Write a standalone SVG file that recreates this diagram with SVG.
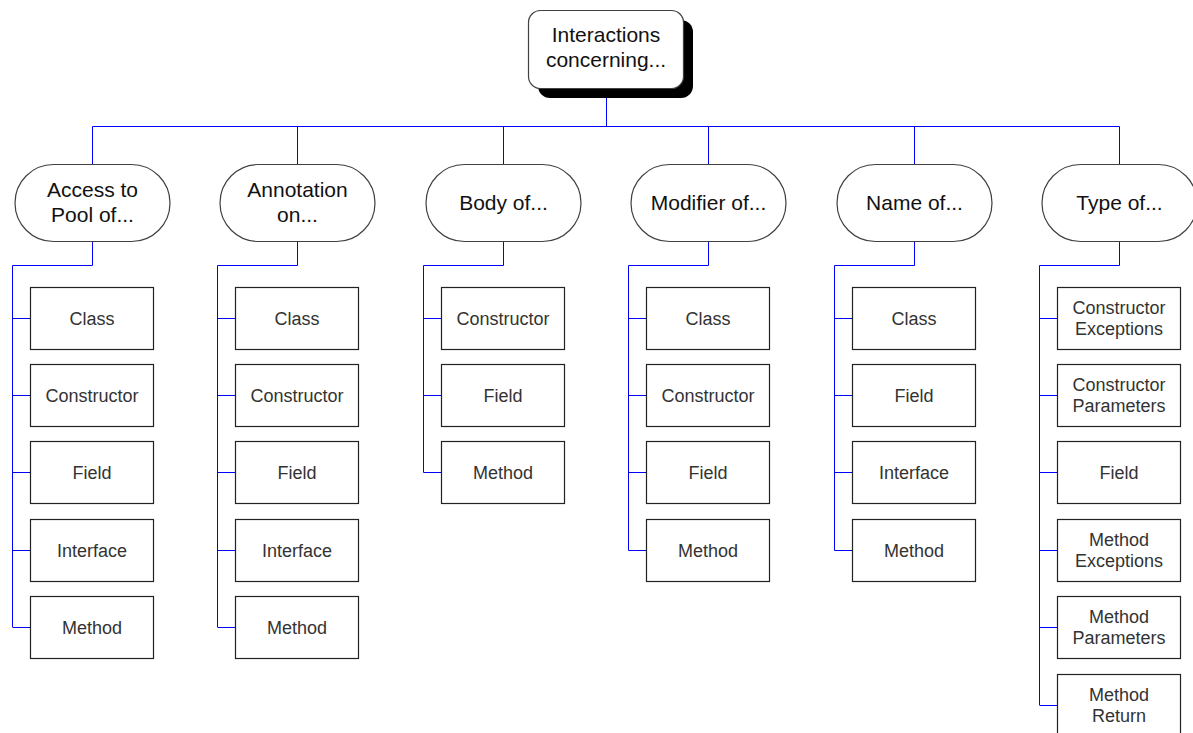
<svg xmlns="http://www.w3.org/2000/svg" width="1193" height="733" viewBox="0 0 1193 733">
<style>
.bg{fill:#fff}
.conn{fill:none;stroke:#0000ff;stroke-width:1}
.cat rect{fill:#fff;stroke:#404040;stroke-width:1.2}
.leaf rect{fill:#fff;stroke:#222;stroke-width:1.2}
.cat text{font-family:"Liberation Sans",Arial,sans-serif;font-size:21px;fill:#111;text-anchor:middle}
.leaf text{font-family:"Liberation Sans",Arial,sans-serif;font-size:18px;fill:#333;text-anchor:middle}
.root text{font-family:"Liberation Sans",Arial,sans-serif;font-size:21px;fill:#111;text-anchor:middle}
</style>
<rect class="bg" x="0" y="0" width="1193" height="733"/>
<g id="connectors" class="conn">
<path d="M606.5 88V126.5M92.5 126.5H1119.5M92.5 126.5V164M297.5 126.5V164M503.5 126.5V164M708.5 126.5V164M914.5 126.5V164M1119.5 126.5V164"/>
<path d="M92.5 242V265.5H12.5V627M12.5 318.5H30M12.5 395.5H30M12.5 472.5H30M12.5 550.5H30M12.5 627.5H30"/>
<path d="M297.5 242V265.5H217.5V627M217.5 318.5H235M217.5 395.5H235M217.5 472.5H235M217.5 550.5H235M217.5 627.5H235"/>
<path d="M503.5 242V265.5H423.5V472.5M423.5 318.5H441M423.5 395.5H441M423.5 472.5H441"/>
<path d="M708.5 242V265.5H628.5V550.5M628.5 318.5H646M628.5 395.5H646M628.5 472.5H646M628.5 550.5H646"/>
<path d="M914.5 242V265.5H834.5V550.5M834.5 318.5H852M834.5 395.5H852M834.5 472.5H852M834.5 550.5H852"/>
<path d="M1119.5 242V265.5H1039.5V705M1039.5 318.5H1057M1039.5 395.5H1057M1039.5 472.5H1057M1039.5 550.5H1057M1039.5 627.5H1057M1039.5 705.5H1057"/>
</g>
<g id="root" class="root">
<rect x="538" y="20" width="155" height="78" rx="12" fill="#000"/>
<rect x="528.5" y="10.5" width="155" height="78" rx="12" fill="#fff" stroke="#404040" stroke-width="1.2"/>
<text x="606" y="42">Interactions</text>
<text x="606" y="67">concerning...</text>
</g>
<g id="cat-access" class="cat"><rect x="15" y="164.5" width="155" height="77" rx="38.5"/><text x="92.5" y="197">Access to</text><text x="92.5" y="222">Pool of...</text></g>
<g id="cat-annotation" class="cat"><rect x="220" y="164.5" width="155" height="77" rx="38.5"/><text x="297.5" y="197">Annotation</text><text x="297.5" y="222">on...</text></g>
<g id="cat-body" class="cat"><rect x="426" y="164.5" width="155" height="77" rx="38.5"/><text x="503.5" y="210">Body of...</text></g>
<g id="cat-modifier" class="cat"><rect x="631" y="164.5" width="155" height="77" rx="38.5"/><text x="708.5" y="210">Modifier of...</text></g>
<g id="cat-name" class="cat"><rect x="837" y="164.5" width="155" height="77" rx="38.5"/><text x="914.5" y="210">Name of...</text></g>
<g id="cat-type" class="cat"><rect x="1042" y="164.5" width="155" height="77" rx="38.5"/><text x="1119.5" y="210">Type of...</text></g>

<g id="access-class" class="leaf"><rect x="30.5" y="287.5" width="123" height="62"/><text x="92" y="325">Class</text></g>
<g id="access-constructor" class="leaf"><rect x="30.5" y="364.5" width="123" height="62"/><text x="92" y="402">Constructor</text></g>
<g id="access-field" class="leaf"><rect x="30.5" y="441.5" width="123" height="62"/><text x="92" y="479">Field</text></g>
<g id="access-interface" class="leaf"><rect x="30.5" y="519.5" width="123" height="62"/><text x="92" y="557">Interface</text></g>
<g id="access-method" class="leaf"><rect x="30.5" y="596.5" width="123" height="62"/><text x="92" y="634">Method</text></g>

<g id="annot-class" class="leaf"><rect x="235.5" y="287.5" width="123" height="62"/><text x="297" y="325">Class</text></g>
<g id="annot-constructor" class="leaf"><rect x="235.5" y="364.5" width="123" height="62"/><text x="297" y="402">Constructor</text></g>
<g id="annot-field" class="leaf"><rect x="235.5" y="441.5" width="123" height="62"/><text x="297" y="479">Field</text></g>
<g id="annot-interface" class="leaf"><rect x="235.5" y="519.5" width="123" height="62"/><text x="297" y="557">Interface</text></g>
<g id="annot-method" class="leaf"><rect x="235.5" y="596.5" width="123" height="62"/><text x="297" y="634">Method</text></g>

<g id="body-constructor" class="leaf"><rect x="441.5" y="287.5" width="123" height="62"/><text x="503" y="325">Constructor</text></g>
<g id="body-field" class="leaf"><rect x="441.5" y="364.5" width="123" height="62"/><text x="503" y="402">Field</text></g>
<g id="body-method" class="leaf"><rect x="441.5" y="441.5" width="123" height="62"/><text x="503" y="479">Method</text></g>

<g id="mod-class" class="leaf"><rect x="646.5" y="287.5" width="123" height="62"/><text x="708" y="325">Class</text></g>
<g id="mod-constructor" class="leaf"><rect x="646.5" y="364.5" width="123" height="62"/><text x="708" y="402">Constructor</text></g>
<g id="mod-field" class="leaf"><rect x="646.5" y="441.5" width="123" height="62"/><text x="708" y="479">Field</text></g>
<g id="mod-method" class="leaf"><rect x="646.5" y="519.5" width="123" height="62"/><text x="708" y="557">Method</text></g>

<g id="name-class" class="leaf"><rect x="852.5" y="287.5" width="123" height="62"/><text x="914" y="325">Class</text></g>
<g id="name-field" class="leaf"><rect x="852.5" y="364.5" width="123" height="62"/><text x="914" y="402">Field</text></g>
<g id="name-interface" class="leaf"><rect x="852.5" y="441.5" width="123" height="62"/><text x="914" y="479">Interface</text></g>
<g id="name-method" class="leaf"><rect x="852.5" y="519.5" width="123" height="62"/><text x="914" y="557">Method</text></g>

<g id="type-ctor-exc" class="leaf"><rect x="1057.5" y="287.5" width="123" height="62"/><text x="1119" y="314">Constructor</text><text x="1119" y="335">Exceptions</text></g>
<g id="type-ctor-par" class="leaf"><rect x="1057.5" y="364.5" width="123" height="62"/><text x="1119" y="391">Constructor</text><text x="1119" y="412">Parameters</text></g>
<g id="type-field" class="leaf"><rect x="1057.5" y="441.5" width="123" height="62"/><text x="1119" y="479">Field</text></g>
<g id="type-meth-exc" class="leaf"><rect x="1057.5" y="519.5" width="123" height="62"/><text x="1119" y="546">Method</text><text x="1119" y="567">Exceptions</text></g>
<g id="type-meth-par" class="leaf"><rect x="1057.5" y="596.5" width="123" height="62"/><text x="1119" y="623">Method</text><text x="1119" y="644">Parameters</text></g>
<g id="type-meth-ret" class="leaf"><rect x="1057.5" y="674.5" width="123" height="62"/><text x="1119" y="701">Method</text><text x="1119" y="722">Return</text></g>
</svg>
